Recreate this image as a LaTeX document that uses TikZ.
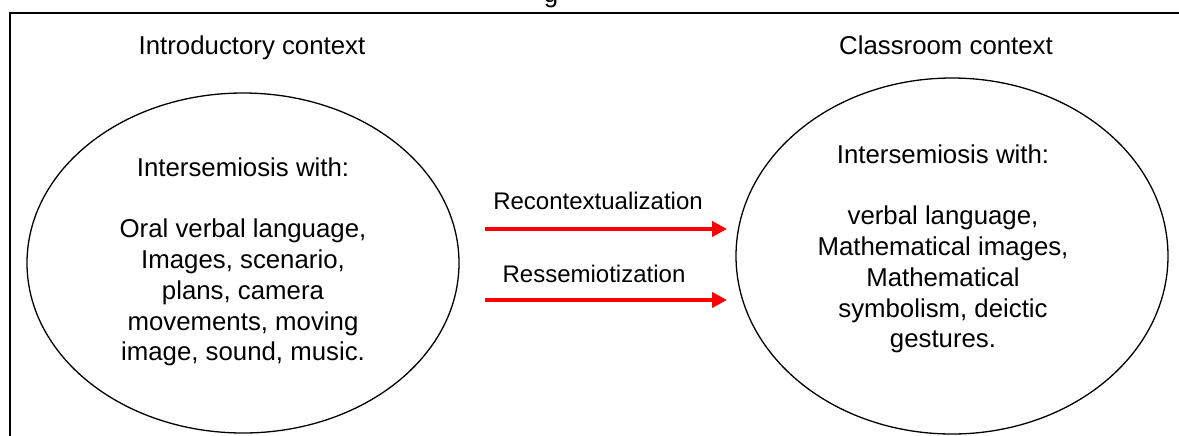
\documentclass[tikz,border=0pt]{standalone}
\usepackage{fontspec}
\setmainfont{Liberation Sans}
\usetikzlibrary{shapes.geometric,arrows.meta}
\begin{document}
\begin{tikzpicture}[x=0.5pt,y=-0.5pt,
  ctxellipse/.style={draw=black,line width=0.65pt,ellipse,inner sep=0pt,
    minimum width=216pt,minimum height=170pt},
  bodytext/.style={align=center,inner sep=0pt,font=\fontsize{12.9pt}{15.35pt}\selectfont},
  titletext/.style={anchor=base,inner sep=0pt,font=\fontsize{12.9pt}{15.35pt}\selectfont},
  labeltext/.style={anchor=base,inner sep=0pt,font=\fontsize{12pt}{14pt}\selectfont},
  redarrow/.style={draw=red,line width=2pt,-{Triangle[length=7.5pt,width=7.5pt]}}]
\useasboundingbox (0,0) rectangle (1179,435);
% frame
\coordinate (fb) at (10,436);
\coordinate (ftl) at (10,13);
\coordinate (fr) at (1180,13);
\draw[line width=1pt] (fb) -- (ftl) -- (fr);
% clipped fragment of text above the frame
\begin{scope}
\clip (0,0) rectangle (1179,9);
\node[titletext] (frag) at (551,2) {g};
\end{scope}
% titles
\node[titletext] (t1) at (252,54) {Introductory context};
\node[titletext] (t2) at (946,54) {Classroom context};
% ellipses
\node[ctxellipse] (L) at (243,263) {};
\node[ctxellipse,minimum height=178pt] (R) at (952,256) {};
\node[bodytext] (Lt) at (243,262) {Intersemiosis with:\\[15.35pt]Oral verbal language,\\Images, scenario,\\plans, camera\\movements, moving\\image, sound, music.};
\node[bodytext] (Rt) at (943,249) {Intersemiosis with:\\[15.35pt]verbal language,\\Mathematical images,\\Mathematical\\symbolism, deictic\\gestures.};
% arrows
\coordinate (a1s) at (485,229);
\coordinate (a1e) at (727,229);
\coordinate (a2s) at (485,300);
\coordinate (a2e) at (727,300);
\draw[redarrow] (a1s) -- (a1e);
\draw[redarrow] (a2s) -- (a2e);
\node[labeltext] (l1) at (598,209) {Recontextualization};
\node[labeltext] (l2) at (594,282) {Ressemiotization};
\end{tikzpicture}
\end{document}
